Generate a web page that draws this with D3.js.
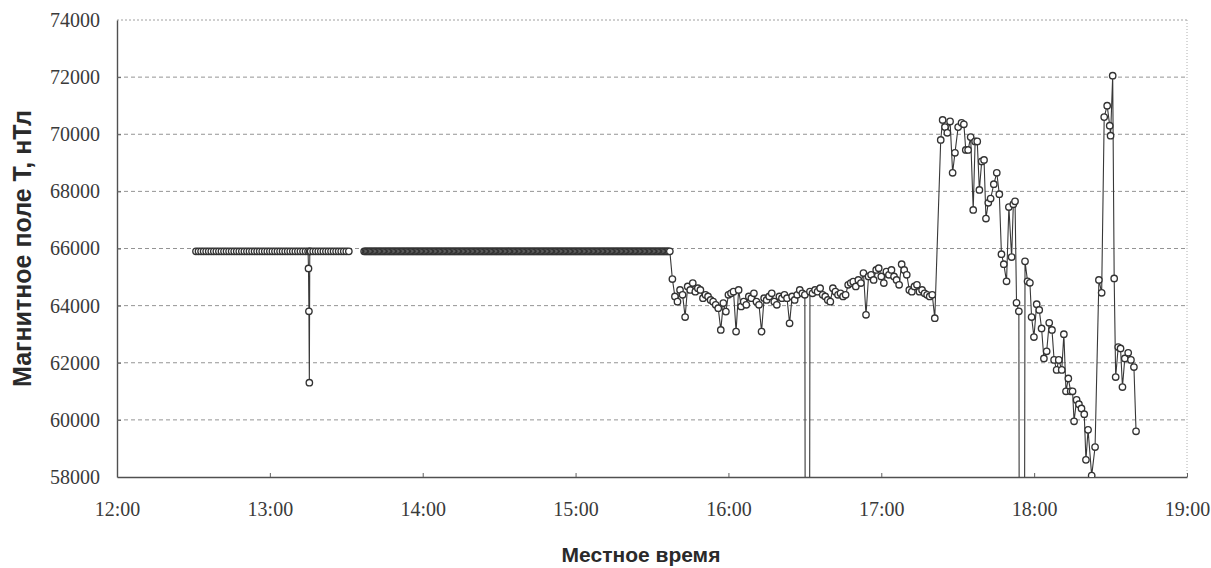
<!DOCTYPE html>
<html>
<head>
<meta charset="utf-8">
<script src="https://cdn.jsdelivr.net/npm/d3@7"></script>
<style>
  body { margin: 0; background: #fff; }
  svg { display: block; }
</style>
</head>
<body>
<svg id="chart" width="1211" height="568"></svg>
<script>
// Axis ticks
const yTickValues = [58000, 60000, 62000, 64000, 66000, 68000, 70000, 72000, 74000];
const xTickLabels = ["12:00", "13:00", "14:00", "15:00", "16:00", "17:00", "18:00", "19:00"];

// 12:31–13:31, one reading per minute (short dropout at 13:15)
const morningTimes = [
  "12:31","12:32","12:33","12:34","12:35","12:36","12:37","12:38","12:39",
  "12:40","12:41","12:42","12:43","12:44","12:45","12:46","12:47","12:48","12:49",
  "12:50","12:51","12:52","12:53","12:54","12:55","12:56","12:57","12:58","12:59",
  "13:00","13:01","13:02","13:03","13:04","13:05","13:06","13:07","13:08","13:09",
  "13:10","13:11","13:12","13:13","13:14","13:15","13:15:10","13:15:20","13:15:30","13:15:40",
  "13:16","13:17","13:18","13:19","13:20","13:21","13:22","13:23","13:24","13:25",
  "13:26","13:27","13:28","13:29","13:30","13:31"
];
const morningValues = [
  65900,65900,65900,65900,65900,65900,65900,65900,65900,
  65900,65900,65900,65900,65900,65900,65900,65900,65900,65900,
  65900,65900,65900,65900,65900,65900,65900,65900,65900,65900,
  65900,65900,65900,65900,65900,65900,65900,65900,65900,65900,
  65900,65900,65900,65900,65900,65900,65300,63800,61300,65900,
  65900,65900,65900,65900,65900,65900,65900,65900,65900,65900,
  65900,65900,65900,65900,65900,65900
];

// 13:37–15:37, one reading every 30 s
const middayTimes = [
  "13:37","13:37:30","13:38","13:38:30","13:39","13:39:30",
  "13:40","13:40:30","13:41","13:41:30","13:42","13:42:30","13:43","13:43:30","13:44","13:44:30",
  "13:45","13:45:30","13:46","13:46:30","13:47","13:47:30","13:48","13:48:30","13:49","13:49:30",
  "13:50","13:50:30","13:51","13:51:30","13:52","13:52:30","13:53","13:53:30","13:54","13:54:30",
  "13:55","13:55:30","13:56","13:56:30","13:57","13:57:30","13:58","13:58:30","13:59","13:59:30",
  "14:00","14:00:30","14:01","14:01:30","14:02","14:02:30","14:03","14:03:30","14:04","14:04:30",
  "14:05","14:05:30","14:06","14:06:30","14:07","14:07:30","14:08","14:08:30","14:09","14:09:30",
  "14:10","14:10:30","14:11","14:11:30","14:12","14:12:30","14:13","14:13:30","14:14","14:14:30",
  "14:15","14:15:30","14:16","14:16:30","14:17","14:17:30","14:18","14:18:30","14:19","14:19:30",
  "14:20","14:20:30","14:21","14:21:30","14:22","14:22:30","14:23","14:23:30","14:24","14:24:30",
  "14:25","14:25:30","14:26","14:26:30","14:27","14:27:30","14:28","14:28:30","14:29","14:29:30",
  "14:30","14:30:30","14:31","14:31:30","14:32","14:32:30","14:33","14:33:30","14:34","14:34:30",
  "14:35","14:35:30","14:36","14:36:30","14:37","14:37:30","14:38","14:38:30","14:39","14:39:30",
  "14:40","14:40:30","14:41","14:41:30","14:42","14:42:30","14:43","14:43:30","14:44","14:44:30",
  "14:45","14:45:30","14:46","14:46:30","14:47","14:47:30","14:48","14:48:30","14:49","14:49:30",
  "14:50","14:50:30","14:51","14:51:30","14:52","14:52:30","14:53","14:53:30","14:54","14:54:30",
  "14:55","14:55:30","14:56","14:56:30","14:57","14:57:30","14:58","14:58:30","14:59","14:59:30",
  "15:00","15:00:30","15:01","15:01:30","15:02","15:02:30","15:03","15:03:30","15:04","15:04:30",
  "15:05","15:05:30","15:06","15:06:30","15:07","15:07:30","15:08","15:08:30","15:09","15:09:30",
  "15:10","15:10:30","15:11","15:11:30","15:12","15:12:30","15:13","15:13:30","15:14","15:14:30",
  "15:15","15:15:30","15:16","15:16:30","15:17","15:17:30","15:18","15:18:30","15:19","15:19:30",
  "15:20","15:20:30","15:21","15:21:30","15:22","15:22:30","15:23","15:23:30","15:24","15:24:30",
  "15:25","15:25:30","15:26","15:26:30","15:27","15:27:30","15:28","15:28:30","15:29","15:29:30",
  "15:30","15:30:30","15:31","15:31:30","15:32","15:32:30","15:33","15:33:30","15:34","15:34:30",
  "15:35","15:35:30","15:36","15:36:30","15:37"
];
const middayValues = [
  65900,65900,65900,65900,65900,65900,
  65900,65900,65900,65900,65900,65900,65900,65900,65900,65900,
  65900,65900,65900,65900,65900,65900,65900,65900,65900,65900,
  65900,65900,65900,65900,65900,65900,65900,65900,65900,65900,
  65900,65900,65900,65900,65900,65900,65900,65900,65900,65900,
  65900,65900,65900,65900,65900,65900,65900,65900,65900,65900,
  65900,65900,65900,65900,65900,65900,65900,65900,65900,65900,
  65900,65900,65900,65900,65900,65900,65900,65900,65900,65900,
  65900,65900,65900,65900,65900,65900,65900,65900,65900,65900,
  65900,65900,65900,65900,65900,65900,65900,65900,65900,65900,
  65900,65900,65900,65900,65900,65900,65900,65900,65900,65900,
  65900,65900,65900,65900,65900,65900,65900,65900,65900,65900,
  65900,65900,65900,65900,65900,65900,65900,65900,65900,65900,
  65900,65900,65900,65900,65900,65900,65900,65900,65900,65900,
  65900,65900,65900,65900,65900,65900,65900,65900,65900,65900,
  65900,65900,65900,65900,65900,65900,65900,65900,65900,65900,
  65900,65900,65900,65900,65900,65900,65900,65900,65900,65900,
  65900,65900,65900,65900,65900,65900,65900,65900,65900,65900,
  65900,65900,65900,65900,65900,65900,65900,65900,65900,65900,
  65900,65900,65900,65900,65900,65900,65900,65900,65900,65900,
  65900,65900,65900,65900,65900,65900,65900,65900,65900,65900,
  65900,65900,65900,65900,65900,65900,65900,65900,65900,65900,
  65900,65900,65900,65900,65900,65900,65900,65900,65900,65900,
  65900,65900,65900,65900,65900,65900,65900,65900,65900,65900,
  65900,65900,65900,65900,65900
];

// 15:38–17:21, one reading per minute (0 = sensor dropout)
const afternoonTimes = [
  "15:38","15:39","15:40","15:41","15:42","15:43","15:44","15:45","15:46","15:47",
  "15:48","15:49","15:50","15:51","15:52","15:53","15:54","15:55","15:56","15:57",
  "15:58","15:59","16:00","16:01","16:02","16:03","16:04","16:05","16:06","16:07",
  "16:08","16:09","16:10","16:11","16:12","16:13","16:14","16:15","16:16","16:17",
  "16:18","16:19","16:20","16:21","16:22","16:23","16:24","16:25","16:26","16:27",
  "16:28","16:29","16:30","16:31","16:32","16:33","16:34","16:35","16:36","16:37",
  "16:38","16:39","16:40","16:41","16:42","16:43","16:44","16:45","16:46","16:47",
  "16:48","16:49","16:50","16:51","16:52","16:53","16:54","16:55","16:56","16:57",
  "16:58","16:59","17:00","17:01","17:02","17:03","17:04","17:05","17:06","17:07",
  "17:08","17:09","17:10","17:11","17:12","17:13","17:14","17:15","17:16","17:17",
  "17:18","17:19","17:20","17:21"
];
const afternoonValues = [
  64930,64320,64140,64550,64380,63600,64670,64550,64790,64490,
  64610,64550,64260,64380,64320,64200,64140,64030,63910,63150,
  64090,63790,64380,64430,64490,63090,64550,63970,64140,64030,
  64320,64260,64430,64140,64030,63090,64260,64200,64320,64430,
  64140,64030,64320,64260,64380,64260,63380,64320,64200,64380,
  64550,64430,64380,0,64490,64430,64550,64490,64610,64380,
  64320,64200,64140,64610,64490,64380,64430,64320,64380,64730,
  64790,64840,64670,64900,64790,65140,63680,65020,65080,64900,
  65250,65310,65020,64790,65190,65080,65250,65020,64900,64730,
  65450,65250,65080,64550,64490,64670,64730,64490,64550,64430,
  64380,64320,64380,63560
];

// 17:23–18:40, disturbed interval
const eveningTimes = [
  "17:23:20","17:24:05","17:25:00","17:25:55","17:27:00","17:28:00","17:28:55","17:30:10","17:31:30","17:32:25",
  "17:33:10","17:34:05","17:35:05","17:36:05","17:36:50","17:37:40","17:38:30","17:39:25","17:40:20","17:41:05",
  "17:42:00","17:42:55","17:44:10","17:45:20","17:46:20","17:47:10","17:48:05","17:49:10","17:50:05","17:51:10",
  "17:51:50","17:52:30","17:53:05","17:54:00","17:55:10","17:56:25","17:57:25","17:58:20","17:59:00","17:59:55",
  "18:01:00","18:02:00","18:02:55","18:03:50","18:04:55","18:05:55","18:07:00","18:07:50","18:08:50","18:09:40",
  "18:10:50","18:11:40","18:12:30","18:13:25","18:14:20","18:15:05","18:15:40","18:16:40","18:17:35","18:18:35",
  "18:19:40","18:20:20","18:21:10","18:22:35","18:23:55","18:25:25","18:26:30","18:27:30","18:28:40","18:29:40",
  "18:30:00","18:30:50","18:31:25","18:32:00","18:33:00","18:33:55","18:34:40","18:35:35","18:36:55","18:38:00",
  "18:39:10","18:40:00"
];
const eveningValues = [
  69800,70500,70250,70050,70450,68650,69350,70250,70400,70350,
  69450,69450,69900,67350,69750,69750,68050,69050,69100,67050,
  67600,67750,68250,68650,67900,65800,65450,64850,67450,65700,
  67550,67650,64100,63800,0,65550,64850,64800,63600,62900,
  64050,63850,63200,62150,62400,63400,63150,62100,61750,62100,
  61750,63000,61000,61450,61000,61000,59950,60700,60550,60400,
  60200,58600,59650,58050,59050,64900,64450,70600,71000,70300,
  69950,72050,64950,61500,62550,62500,61150,62150,62350,62100,
  61850,59600
];

const plot = { left: 117, right: 1187, top: 20, bottom: 477 };

const parseClock = s => (s.length > 5 ? d3.timeParse("%H:%M:%S") : d3.timeParse("%H:%M"))(s);
const toRecords = (times, values) => times.map((t, i) => ({ t: parseClock(t), v: values[i] }));

// gap in the record between the morning run and the midday run
const records = [
  ...toRecords(morningTimes, morningValues),
  { t: null, v: null },
  ...toRecords(middayTimes, middayValues),
  ...toRecords(afternoonTimes, afternoonValues),
  ...toRecords(eveningTimes, eveningValues)
];

const x = d3.scaleTime()
  .domain([parseClock(xTickLabels[0]), parseClock(xTickLabels[xTickLabels.length - 1])])
  .range([plot.left, plot.right]);
const y = d3.scaleLinear()
  .domain([yTickValues[0], yTickValues[yTickValues.length - 1]])
  .range([plot.bottom, plot.top]);

const svg = d3.select("#chart");
const yTop = yTickValues[yTickValues.length - 1];

// horizontal grid
svg.append("g")
  .selectAll("line")
  .data(yTickValues.slice(1))
  .join("line")
  .attr("x1", plot.left).attr("x2", plot.right)
  .attr("y1", d => y(d)).attr("y2", d => y(d))
  .attr("stroke", d => d === yTop ? "#a0a0a0" : "#949494")
  .attr("stroke-width", 1)
  .attr("stroke-dasharray", d => d === yTop ? "2,2" : "4,3");

// right frame edge
svg.append("line")
  .attr("x1", plot.right).attr("x2", plot.right)
  .attr("y1", plot.top).attr("y2", plot.bottom)
  .attr("stroke", "#b0b0b0").attr("stroke-dasharray", "1,2");

// axes
const tickFont = "'Liberation Serif', 'Times New Roman', serif";
const xAxis = svg.append("g")
  .attr("transform", `translate(0,${plot.bottom})`)
  .call(d3.axisBottom(x)
    .tickValues(xTickLabels.map(parseClock))
    .tickFormat(d3.timeFormat("%H:%M"))
    .tickSizeInner(-4).tickSizeOuter(0).tickPadding(25));
const yAxis = svg.append("g")
  .attr("transform", `translate(${plot.left},0)`)
  .call(d3.axisLeft(y)
    .tickValues(yTickValues)
    .tickFormat(d3.format("d"))
    .tickSizeInner(-4).tickSizeOuter(0).tickPadding(17));

[xAxis, yAxis].forEach(g => {
  g.select(".domain").attr("stroke", "#505050").attr("stroke-width", 1.4);
  g.selectAll(".tick line").attr("stroke", "#606060");
  g.selectAll(".tick text")
    .attr("font-family", tickFont)
    .attr("font-size", 20)
    .attr("fill", "#3a3a3a");
});
yAxis.selectAll(".tick line").filter(d => d === yTickValues[0] || d === yTop).remove();
xAxis.selectAll(".tick line").filter((d, i) => i === 0).remove();

// data
svg.append("clipPath").attr("id", "plot-clip")
  .append("rect")
  .attr("x", plot.left).attr("y", plot.top)
  .attr("width", plot.right - plot.left).attr("height", plot.bottom - plot.top);

const series = svg.append("g").attr("clip-path", "url(#plot-clip)");

const line = d3.line()
  .defined(d => d.v != null)
  .x(d => x(d.t))
  .y(d => y(d.v));

series.append("path")
  .datum(records)
  .attr("fill", "none")
  .attr("stroke", "#383838")
  .attr("stroke-width", 1.1)
  .attr("d", line);

series.append("g")
  .selectAll("circle")
  .data(records.filter(d => d.v != null))
  .join("circle")
  .attr("cx", d => x(d.t))
  .attr("cy", d => y(d.v))
  .attr("r", 3.2)
  .attr("fill", "#fff")
  .attr("stroke", "#333")
  .attr("stroke-width", 1.35);

// titles
const titleFont = "'Liberation Sans', Arial, sans-serif";
svg.append("text")
  .attr("transform", `translate(31,${(plot.top + plot.bottom) / 2}) rotate(-90)`)
  .attr("text-anchor", "middle")
  .attr("font-family", titleFont)
  .attr("font-weight", "bold")
  .attr("font-size", 25)
  .attr("fill", "#2a2a2a")
  .text("Магнитное поле Т, нТл");

svg.append("text")
  .attr("x", 641).attr("y", 562)
  .attr("text-anchor", "middle")
  .attr("font-family", titleFont)
  .attr("font-weight", "bold")
  .attr("font-size", 21)
  .attr("fill", "#2a2a2a")
  .text("Местное время");
</script>
</body>
</html>
